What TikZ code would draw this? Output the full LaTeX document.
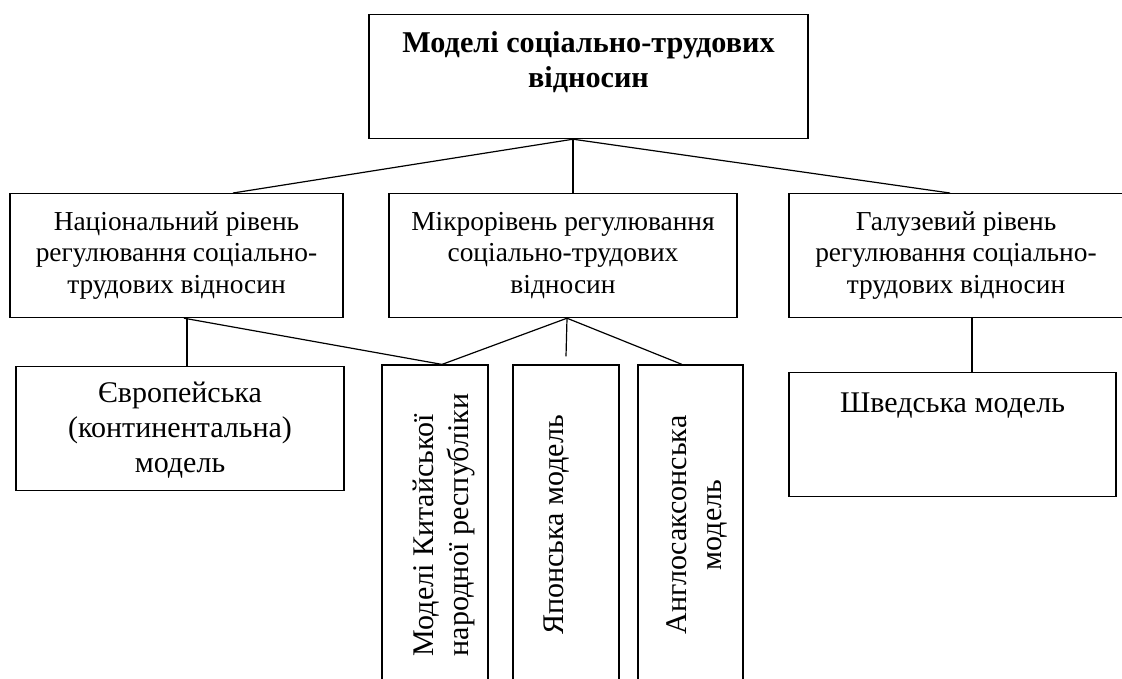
\documentclass[tikz,border=0pt]{standalone}
\usepackage{fontspec}
\setmainfont{Liberation Serif}
\usepackage{tikz}
\tikzset{%
	title/.style  = {draw, rectangle, inner sep=0pt, anchor=north, align=center, font=\fontsize{30.2}{35}\selectfont\bfseries},
	level/.style  = {draw, rectangle, inner sep=0pt, anchor=north, align=center, text height=99.6pt, text depth=24.4pt, font=\fontsize{27.4}{31.3}\selectfont},
	model/.style  = {draw, rectangle, inner sep=0pt, anchor=north, align=center, font=\fontsize{30}{35}\selectfont},
	vmodel/.style = {model, anchor=center, rotate=90, minimum width=320pt, text height=50pt, text depth=56pt},
	link/.style   = {line width=1.2pt},
}
\begin{document}
\begin{tikzpicture}[x=1pt,y=-1pt,line width=1.2pt]
	\useasboundingbox (0,0) rectangle (1122,678);
	
	% top
	\node[title, minimum width=439pt, text height=73pt, text depth=51pt] (models) at (588.5,14) {Моделі соціально-трудових\\відносин};
	
	% levels
	\node[level, minimum width=333pt] (nat) at (176.5,193) {Національний рівень\\регулювання соціально-\\трудових відносин};
	\node[level, minimum width=348pt] (micro) at (563,193) {Мікрорівень регулювання\\соціально-трудових\\відносин};
	\node[level, minimum width=334pt] (branch) at (956,193) {Галузевий рівень\\регулювання соціально-\\трудових відносин};
	
	% models
	\node[model, minimum width=328pt, text height=106pt, text depth=18pt] (euro) at (180,366) {Європейська\\(континентальна)\\модель};
	\node[vmodel, align=left, text height=86pt, text depth=20pt] (china) at (435,525) {Моделі Китайської\\народної республіки};
	\node[vmodel] (japan) at (566,525) {Японська модель};
	\node[vmodel, text height=83pt, text depth=22pt] (anglo) at (690.5,525) {Англосаксонська\\модель};
	\node[model, minimum width=327pt, text height=40pt, text depth=84pt] (swed) at (952.5,372) {Шведська модель};
	\coordinate (japtop) at ([yshift=8pt]japan.east);
	
	% links
	\draw[link] ([xshift=-15.5pt]models.south) -- ([xshift=56.5pt]nat.north);
	\draw[link] ([xshift=-15.5pt]models.south) -- ([xshift=10pt]micro.north);
	\draw[link] ([xshift=-15.5pt]models.south) -- ([xshift=-6pt]branch.north);
	\draw[link] ([xshift=10.5pt]nat.south) -- ([xshift=7pt]euro.north);
	\draw[link] ([xshift=7.5pt]nat.south) -- ([xshift=7pt]china.east);
	\draw[link] ([xshift=4pt]micro.south) -- ([xshift=7pt]china.east);
	\draw[link] ([xshift=4pt]micro.south) -- (japtop);
	\draw[link] ([xshift=4pt]micro.south) -- ([xshift=-8.5pt]anglo.east);
	\draw[link] ([xshift=16pt]branch.south) -- ([xshift=19.5pt]swed.north);
\end{tikzpicture}
\end{document}
